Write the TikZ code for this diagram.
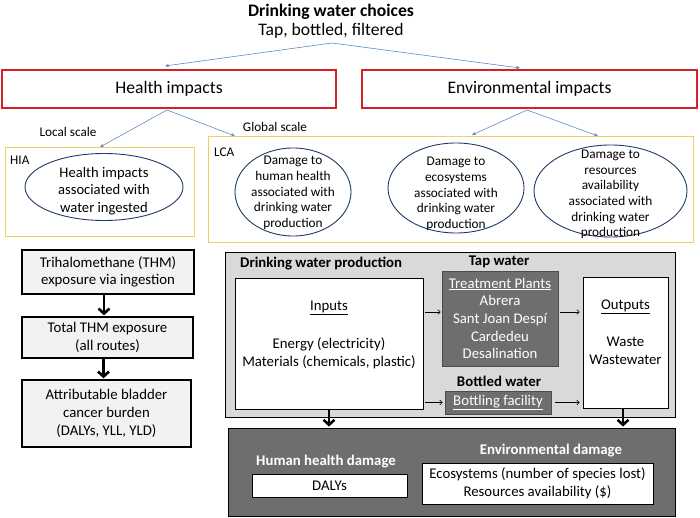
\documentclass[tikz,border=0pt]{standalone}
\usepackage{fontspec}
\setmainfont{Carlito}
\usetikzlibrary{arrows.meta,shapes.geometric}
\definecolor{hred}{HTML}{D42027}
\definecolor{gold}{HTML}{F5CB62}
\definecolor{navy}{HTML}{1F3A64}
\definecolor{arrblue}{HTML}{5B8CC4}
\definecolor{lgray}{HTML}{D9D9D9}
\definecolor{dgray}{HTML}{6E6E6E}
\definecolor{boxgray}{HTML}{F2F2F2}
\begin{document}
\begin{tikzpicture}[x=1pt,y=-1pt,
  head/.style={font=\fontsize{17.6}{21}\selectfont},
  body/.style={font=\fontsize{14.8}{17.7}\selectfont, align=center, inner sep=0pt},
  small/.style={font=\fontsize{13.2}{15.5}\selectfont, inner sep=0pt},
  etext/.style={font=\fontsize{13.3}{15.6}\selectfont, align=center, inner sep=0pt},
  hiatext/.style={font=\fontsize{14.6}{17.2}\selectfont, align=center, inner sep=0pt},
  redbox/.style={draw=hred, line width=2pt, head, inner sep=0pt},
  goldbox/.style={draw=gold, line width=1pt, inner sep=0pt},
  ell/.style={ellipse, draw=navy, line width=0.9pt, inner sep=0pt},
  thmbox/.style={draw=black, line width=1.4pt, fill=boxgray, inner sep=0pt},
  whitebox/.style={draw=black, line width=0.8pt, fill=white, inner sep=0pt},
  darkbox/.style={draw=black!70, line width=0.8pt, fill=dgray, inner sep=0pt},
  blarr/.style={draw=arrblue, line width=0.6pt, -{Stealth[length=4pt,width=3.5pt]}},
  thinarr/.style={draw=black, line width=0.6pt, -{To[length=3pt,width=5pt]}},
  thickarr/.style={draw=black, line width=2.6pt, -{Straight Barb[length=5pt,width=11pt]}}
]
\useasboundingbox (0,0) rectangle (700,518);

% title
\node[head, inner sep=0pt] (title) at (331,12) {\bfseries Drinking water choices};
\node[head, inner sep=0pt] (sub) at (331,31) {Tap, bottled, filtered};
\coordinate (ts) at (332,43);
\coordinate (th) at (165,66);
\coordinate (te) at (520,68);

% red boxes
\node[redbox, minimum width=334, minimum height=38] (health) at (169,89) {Health impacts};
\node[redbox, minimum width=335, minimum height=38] (env) at (529.5,89) {Environmental impacts};
\draw[blarr] (ts) -- (th);
\draw[blarr] (ts) -- (te);

\coordinate (hs) at (167,110);
\coordinate (es) at (527,110);
\coordinate (hh) at (100,147);
\coordinate (hl) at (235,136);
\coordinate (el1) at (472,135);
\coordinate (el2) at (598,136);
\draw[blarr] (hs) -- (hh);
\draw[blarr] (hs) -- (hl);
\draw[blarr] (es) -- (el1);
\draw[blarr] (es) -- (el2);

\node[small] (local) at (68,132) {Local scale};
\node[small] (global) at (275,127) {Global scale};

% HIA and LCA boxes
\node[goldbox, minimum width=189, minimum height=89] (hia) at (99.5,192.5) {};
\node[goldbox, minimum width=485, minimum height=106] (lca) at (450.5,190) {};
\node[small, anchor=west] (hialbl) at (10,160) {HIA};
\node[small, anchor=west] (lcalbl) at (214,152) {LCA};

\node[ell, minimum width=158, minimum height=67] (e0) at (104,187) {};
\node[hiatext] (e0t) at (104,191) {Health impacts\\associated with\\water ingested};

\node[ell, minimum width=116, minimum height=88] (e1) at (293,192) {};
\node[etext] (e1t) at (293,193) {Damage to\\human health\\associated with\\drinking water\\production};

\node[ell, minimum width=136, minimum height=90] (e2) at (456,188) {};
\node[etext] (e2t) at (456,194) {Damage to\\ecosystems\\associated with\\drinking water\\production};

\node[ell, minimum width=153, minimum height=92] (e3) at (610.5,191) {};
\node[etext] (e3t) at (610.5,194.5) {Damage to\\resources\\availability\\associated with\\drinking water\\production};

% THM column
\node[thmbox, minimum width=172, minimum height=44, body] (b1) at (108,272) {Trihalomethane (THM)\\exposure via ingestion};
\node[thmbox, minimum width=171, minimum height=41, body] (b2) at (107.5,337.5) {Total THM exposure\\(all routes)};
\node[thmbox, minimum width=169, minimum height=67, body] (b3) at (106.5,413.5) {Attributable bladder\\cancer burden\\(DALYs, YLL, YLD)};
\draw[thickarr] ([xshift=-4pt]b1.south) -- ([xshift=-4pt,yshift=1pt]b1.south |- b2.north);
\draw[thickarr] ([xshift=-4pt]b2.south) -- ([xshift=-4pt,yshift=1pt]b2.south |- b3.north);

% production
\node[draw=black, line width=0.9pt, fill=lgray, minimum width=450, minimum height=165, inner sep=0pt] (prod) at (450,334.5) {};
\node[body, anchor=west] (prodlbl) at (240,264) {\bfseries Drinking water production};

\node[whitebox, minimum width=188, minimum height=131] (inputs) at (329,343.5) {};
\node[body] (inlbl) at (329,308) {\underline{Inputs}};
\node[body] (intxt) at (329,353) {Energy (electricity)\\Materials (chemicals, plastic)};

\node[body] (taplbl) at (499,262) {\bfseries Tap water};
\node[darkbox, minimum width=116, minimum height=95, body, text=white] (treat) at (500,318.5)
  {\underline{Treatment Plants}\\Abrera\\Sant Joan Despí\\Cardedeu\\Desalination};

\node[body] (botlbl) at (499,381) {\bfseries Bottled water};
\node[darkbox, minimum width=106, minimum height=23, body, text=white] (bottle) at (498,402.5) {\underline{Bottling facility}};

\node[whitebox, minimum width=85, minimum height=131] (outputs) at (625.5,342.5) {};
\node[body] (outlbl) at (625.5,307) {\underline{Outputs}};
\node[body] (outtxt) at (625.5,351) {Waste\\Wastewater};

\coordinate (t1) at ([yshift=6.5pt]treat.west);
\coordinate (t2) at ([yshift=6.5pt]treat.east);
\draw[thinarr, shorten <=1.5pt, shorten >=1pt] (inputs.east |- t1) -- (t1);
\draw[thinarr, shorten <=2pt, shorten >=3pt] (t2) -- (outputs.west |- t2);
\draw[thinarr, shorten <=1.5pt, shorten >=2pt] (inputs.east |- bottle.west) -- (bottle.west);
\draw[thinarr, shorten <=4pt, shorten >=3pt] (bottle.east) -- (outputs.west |- bottle.east);

% damage
\node[draw=black, line width=0.9pt, fill=dgray, minimum width=447, minimum height=88, inner sep=0pt] (dmg) at (451.5,472) {};
\draw[thickarr] (inputs.south) -- ([yshift=1pt]inputs.south |- dmg.north);
\draw[thickarr] ([xshift=-2.5pt]outputs.south) -- ([xshift=-2.5pt,yshift=1pt]outputs.south |- dmg.north);

\node[body, text=white] (hhlbl) at (326,462) {\bfseries Human health damage};
\node[whitebox, minimum width=155, minimum height=23, body] (dalys) at (329.5,485.5) {DALYs};
\node[body, text=white] (edlbl) at (551,451) {\bfseries Environmental damage};
\node[whitebox, minimum width=231, minimum height=41, body] (edbox) at (537.5,483.5) {Ecosystems (number of species lost)\\Resources availability (\$)};
\end{tikzpicture}
\end{document}
